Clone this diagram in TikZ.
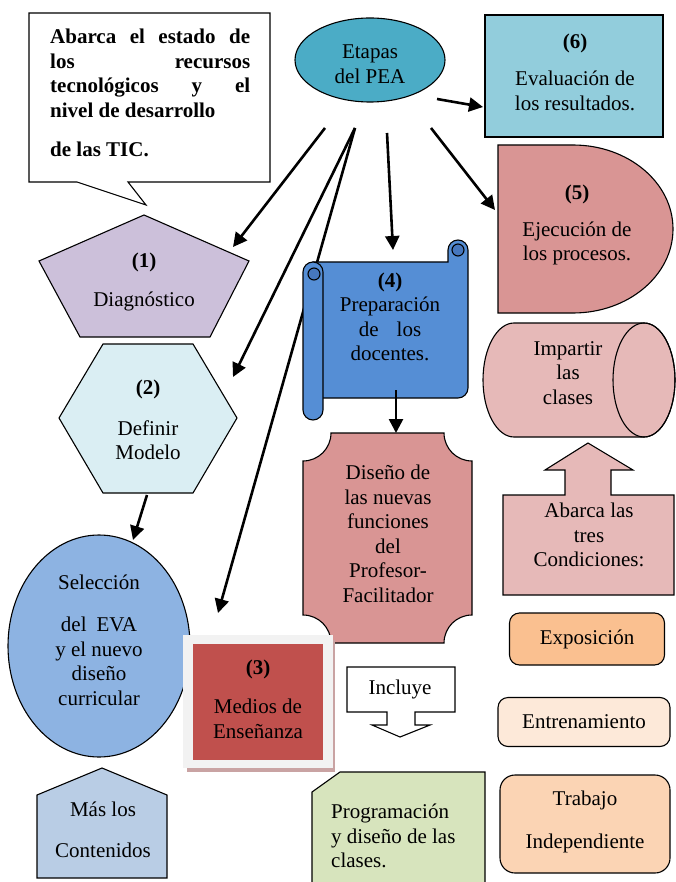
\documentclass[tikz,border=0pt]{standalone}
\usepackage{fontspec}
\setmainfont{Liberation Serif}
\usepackage{tikz}
\usetikzlibrary{arrows.meta,shapes.geometric,calc}

\definecolor{etapasC}{HTML}{4BACC6}
\definecolor{evalC}{HTML}{92CDDC}
\definecolor{ejecC}{HTML}{D99594}
\definecolor{diagC}{HTML}{CCC0DA}
\definecolor{modeloC}{HTML}{DAEEF3}
\definecolor{prepC}{HTML}{558ED5}
\definecolor{curlC}{HTML}{4677BE}
\definecolor{clasesC}{HTML}{E6B9B8}
\definecolor{exposC}{HTML}{FAC090}
\definecolor{entrenC}{HTML}{FDE9D9}
\definecolor{trabC}{HTML}{FBD4B4}
\definecolor{progC}{HTML}{D7E4BD}
\definecolor{evaC}{HTML}{8DB3E2}
\definecolor{mediosC}{HTML}{C0504D}
\definecolor{frameC}{HTML}{F2F2F2}
\definecolor{shadeC}{HTML}{C9A3A3}
\definecolor{masC}{HTML}{B9CDE5}

\begin{document}
\begin{tikzpicture}[
    x=1pt, y=-1pt,
    every node/.style={font=\fontsize{21}{24.5}\selectfont, align=center, inner sep=0pt},
    outline/.style={draw=black, line width=1.1pt},
    roundbox/.style={outline, rounded corners=10pt},
    flow/.style={-{Triangle[length=14pt,width=14pt]}, line width=2.6pt}
]
\useasboundingbox (0,0) rectangle (676,882);
\clip (0,0) rectangle (676,882);

% Arrow ends
\coordinate (s1) at (325,128);
\coordinate (s2) at (355,128);
\coordinate (s4) at (387,133);
\coordinate (s5) at (431,128);
\coordinate (s6) at (437,99);
\coordinate (t1) at (233,247);
\coordinate (t2) at (233,377);
\coordinate (t3) at (218,613);
\coordinate (t4) at (393,250);
\coordinate (t5) at (495,210);
\coordinate (t6) at (483,107);

% Flows from the stages (under the shapes)
\draw[flow] (s1) -- (t1);
\draw[flow] (s2) -- (t2);
\draw[flow] (s2) -- (t3);
\draw[flow] (s4) -- (t4);
\draw[flow] (s5) -- (t5);
\draw[flow] (s6) -- (t6);

% Callout
\draw[outline, fill=white] (29,13) -- (270,13) -- (270,182) -- (128,182) -- (146,205) -- (77,182) -- (29,182) -- cycle;
\node[anchor=north west, text width=200pt, align=justify, font=\fontsize{21}{24.5}\selectfont\bfseries] (tic) at (50,29)
  {Abarca el estado de\linebreak los recursos\linebreak tecnológicos y el\linebreak nivel de desarrollo\\[15pt]de las TIC.};

% Stages
\node[ellipse, outline, fill=etapasC, minimum width=150, minimum height=84] (etapasbox) at (370,60) {};
\node (etapas) at (370,64) {Etapas\\del PEA};

\node[rectangle, outline, fill=evalC, minimum width=178, minimum height=122] (evalbox) at (574,76) {};
\node (eval) at (575,72) {\textbf{(6)}\\[13pt]Evaluación de\\los resultados.};

\draw[outline, fill=ejecC] (498,145) -- (573,145) arc[start angle=270, end angle=450, x radius=100, y radius=84] -- (498,313) -- cycle;
\node (ejec) at (577,225) {\textbf{(5)}\\[12pt]Ejecución de\\los procesos.};

\draw[outline, fill=diagC] (144,215) -- (249,261) -- (210,337) -- (80,337) -- (39,261) -- cycle;
\node (diag) at (144,282) {\textbf{(1)}\\[14pt]Diagnóstico};

\draw[outline, fill=modeloC] (103,344) -- (193,344) -- (237,418) -- (193,493) -- (103,493) -- (59,418) -- cycle;
\node (modelo) at (148,420) {\textbf{(2)}\\[16pt]Definir\\Modelo};

% Scroll (4)
\draw[outline, fill=prepC] (313,262) -- (448,262) -- (448,250) arc[start angle=180, end angle=360, radius=10]
  -- (468,388) arc[start angle=0, end angle=90, radius=10] -- (313,398) -- cycle;
\draw[outline, fill=prepC] (303,272) arc[start angle=180, end angle=360, radius=10]
  -- (323,410) arc[start angle=0, end angle=180, radius=10] -- cycle;
\draw[outline, fill=curlC] (314,274) circle (6);
\draw[outline, fill=curlC] (458,250) circle (6);
\node (prep) at (390,317) {\textbf{(4)}\\Preparación\\de\hspace{18pt}los\\docentes.};

% Plaque
\draw[outline, fill=ejecC] (331,433) -- (444,433) arc[start angle=180, end angle=90, radius=28]
  -- (472,615) arc[start angle=270, end angle=180, radius=28]
  -- (331,643) arc[start angle=360, end angle=270, radius=28]
  -- (303,461) arc[start angle=90, end angle=0, radius=28] -- cycle;
\node (disenio) at (388,534) {Diseño de\\las nuevas\\funciones\\del\\Profesor-\\Facilitador};

% Cylinder
\draw[outline, fill=clasesC] (514,323) -- (644,323) arc[start angle=270, end angle=450, x radius=31, y radius=57]
  -- (514,437) arc[start angle=90, end angle=270, x radius=31, y radius=57] -- cycle;
\draw[outline] (644,380) ellipse [x radius=31, y radius=57];
\node (impartir) at (568,373) {Impartir\\las\\clases};

% Up arrow box
\draw[outline, fill=clasesC] (503,495) -- (565,495) -- (565,470) -- (545,470) -- (588,443) -- (633,470)
  -- (611,470) -- (611,495) -- (674,495) -- (674,595) -- (503,595) -- cycle;
\node (abarca) at (589,535) {Abarca las\\tres\\Condiciones:};

% Conditions
\node[roundbox, fill=exposC, minimum width=155, minimum height=52] (expos) at (587,639) {Exposición};
\node[roundbox, fill=entrenC, minimum width=172, minimum height=49] (entren) at (584,722) {Entrenamiento};
\node[roundbox, rounded corners=15pt, fill=trabC, minimum width=170, minimum height=98] (trabbox) at (585,824) {};
\node (trab) at (585,822) {Trabajo\\[18pt]Independiente};

% Down arrow box
\draw[outline, fill=white] (347,667) -- (455,667) -- (455,712) -- (415,712) -- (415,725) -- (430,725) -- (400,737)
  -- (372,725) -- (387,725) -- (387,712) -- (347,712) -- cycle;
\node (incluye) at (400,689) {Incluye};

% Snipped box
\draw[outline, fill=progC] (312,890) -- (312,792) -- (340,772) -- (485,772) -- (485,890);
\node[anchor=west, align=left] (prog) at (331,836) {Programación\\y diseño de las\\clases.};

% EVA ellipse
\node[ellipse, outline, fill=evaC, minimum width=182, minimum height=222] (evabox) at (99,646) {};
\node (eva) at (99,640) {Selección\\[18pt]del\hspace{10pt}EVA\\y el nuevo\\diseño\\curricular};

% Medios (3)
\fill[shadeC] (187,640) rectangle (335,772);
\fill[frameC] (183,635) rectangle (333,768);
\fill[mediosC] (193,644) rectangle (323,760);
\node (medios) at (258,699) {\textbf{(3)}\\[15pt]Medios de\\Enseñanza};

% House
\draw[outline, fill=masC] (102,768) -- (167,795) -- (167,878) -- (37,878) -- (37,795) -- cycle;
\node (mas) at (103,830) {Más los\\[16pt]Contenidos};

% Short flows
\coordinate (s7) at (396,390);
\coordinate (t7) at (396,433);
\coordinate (s8) at (147,495);
\coordinate (t8) at (133,540);
\draw[flow] (s7) -- (t7);
\draw[flow] (s8) -- (t8);

\end{tikzpicture}
\end{document}
